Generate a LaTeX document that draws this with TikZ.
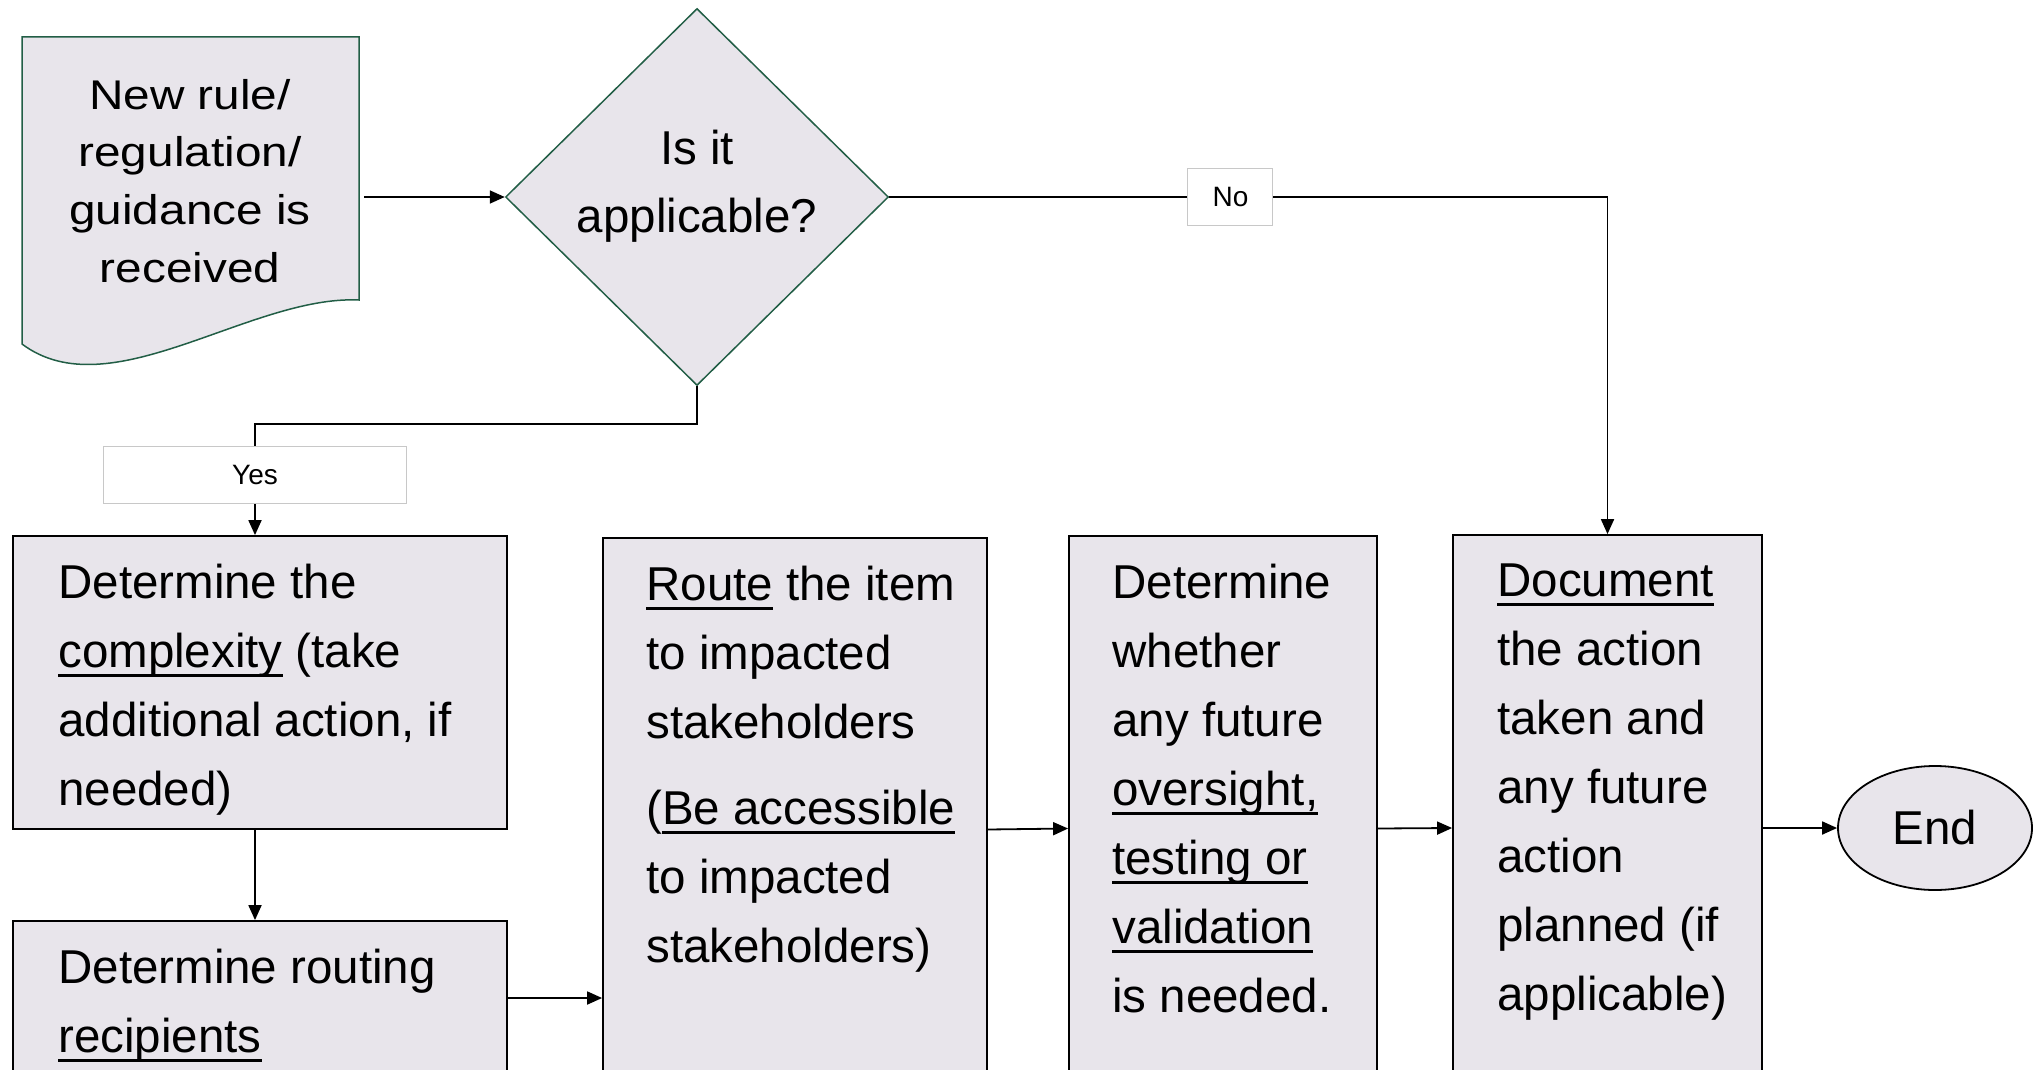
\documentclass[tikz,border=0pt]{standalone}
\usepackage{fontspec}
\setmainfont{Liberation Sans}
\newfontfamily\widefont[FakeStretch=1.15]{Liberation Sans}
\usetikzlibrary{shapes.geometric,arrows.meta,positioning}
\definecolor{boxfill}{RGB}{232,229,235}
\definecolor{edgegreen}{RGB}{34,94,70}
\definecolor{tagedge}{RGB}{200,200,200}
\newcommand{\ulword}[1]{\setbox0\hbox{#1}\rlap{\rule[-9pt]{\wd0}{2.5pt}}\box0\relax}
\tikzset{
  stepbox/.style={draw=black, line width=1.8pt, fill=boxfill, inner sep=0pt},
  steptext/.style={anchor=north west, align=left, inner sep=0pt, font=\fontsize{47.5}{69}\selectfont},
  tag/.style={draw=tagedge, line width=1pt, fill=white, inner sep=0pt, font=\fontsize{28}{34}\selectfont},
  flow/.style={line width=1.8pt, -{Triangle[length=15pt,width=13pt]}},
}
\begin{document}
\begin{tikzpicture}[x=1pt,y=-1pt]
\useasboundingbox (0,0) rectangle (2044,1070);
\clip (0,0) rectangle (2044,1070);

% incoming document
\draw[edgegreen, line width=1.5pt, fill=boxfill] (22,37) -- (359,37) -- (359,300)
  .. controls (250,295) and (110,410) .. (22,344) -- cycle;
\node[font=\widefont\fontsize{41.5}{57.7}\selectfont, align=center, anchor=north, inner sep=0pt] (news) at (190,79) {New rule/\\regulation/\\guidance is\\received};
\coordinate (news-out) at (364,197);

% decision
\node[diamond, draw=edgegreen, line width=1.5pt, fill=boxfill, minimum width=383pt, minimum height=377pt, inner sep=0pt] (applic) at (697,197) {};
\node[align=center, inner sep=0pt, font=\fontsize{47.5}{68}\selectfont] (applic-t) at ([yshift=11pt]applic.center) {Is it\\applicable?};

% process steps
\node[stepbox, minimum width=494pt, minimum height=293pt] (cplx) at (260,682.5) {};
\node[stepbox, minimum width=494pt, minimum height=154pt] (recip) at (260,998) {};
\node[stepbox, minimum width=384pt, minimum height=583pt] (route) at (795,829.5) {};
\node[stepbox, minimum width=308pt, minimum height=585pt] (overs) at (1223,828.5) {};
\node[stepbox, minimum width=309pt, minimum height=586pt] (docact) at (1607.5,828) {};
\node[ellipse, draw, line width=1.8pt, fill=boxfill, minimum width=194pt, minimum height=124pt, inner sep=0pt, font=\fontsize{47.5}{69}\selectfont] (finish) at (1935,828) {End};

\node[steptext] (cplx-t) at ([xshift=46pt,yshift=-29pt]cplx.north west) {Determine the\\\ulword{complexity} (take\\additional action, if\\needed)};
\node[steptext] (recip-t) at ([xshift=46pt,yshift=-29pt]recip.north west) {Determine routing\\\ulword{recipients}};
\node[steptext] (route-t) at ([xshift=44pt,yshift=-29pt]route.north west) {\ulword{Route} the item\\to impacted\\stakeholders\\[17pt](\ulword{Be accessible}\\to impacted\\stakeholders)};
\node[steptext] (overs-t) at ([xshift=44pt,yshift=-29pt]overs.north west) {Determine\\whether\\any future\\\ulword{oversight,}\\\ulword{testing or}\\\ulword{validation}\\is needed.};
\node[steptext] (docact-t) at ([xshift=45pt,yshift=-30pt]docact.north west) {\ulword{Document}\\the action\\taken and\\any future\\action\\planned (if\\applicable)};

% connectors
\draw[flow] (news-out) -- (applic.west);
\draw[flow] (applic.east) -- node[tag, minimum width=85pt, minimum height=57pt, pos=0.475] (no-tag) {No} (applic.east -| docact.north) -- (docact.north);
\draw[flow] (applic.south) -- ++(0,38) -| node[tag, minimum width=303pt, minimum height=57pt, pos=0.73] (yes-tag) {Yes} ([xshift=-5pt]cplx.north);
\draw[flow] ([xshift=-5pt]cplx.south) -- ([xshift=-5pt]recip.north);
\draw[flow] (recip.east) -- (recip.east -| route.west);
\draw[flow] (route.east) -- (overs.west);
\draw[flow] (overs.east) -- (docact.west);
\draw[flow] (docact.east) -- (finish.west);
\end{tikzpicture}
\end{document}
